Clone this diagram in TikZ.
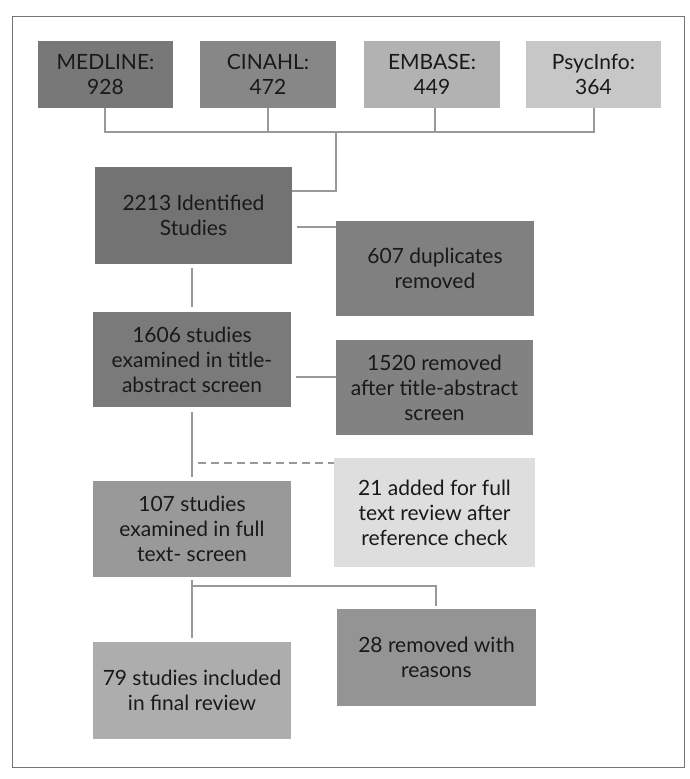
\documentclass[tikz,border=0pt]{standalone}
\usepackage{fontspec}
\setmainfont{Lato}
\begin{document}
\begin{tikzpicture}[x=1pt,y=-1pt,
  box/.style={inner sep=0pt, align=center, font=\fontsize{21}{25}\selectfont, text=black!90},
  conn/.style={draw=black!40, line width=1.6pt}]
\useasboundingbox (0,0) rectangle (690,779);
\draw[black!55, line width=0.8pt] (12,16) rectangle (684,767);
\def\bx#1#2#3#4#5#6#7{\node[box, fill=#6, minimum width={#3-#1}, minimum height={#4-#2}] (#5) at ({(#1+#3)/2},{(#2+#4)/2}) {#7};}
\bx{38}{41}{173}{108}{med}{black!53}{MEDLINE:\\928}
\bx{200}{41}{336}{108}{cin}{black!47}{CINAHL:\\472}
\bx{364}{41}{500}{108}{emb}{black!30}{EMBASE:\\449}
\bx{526}{41}{661}{108}{psy}{black!22}{PsycInfo:\\364}
\bx{95}{167}{292}{264}{ident}{black!55}{2213 Identified\\Studies}
\bx{336}{221}{534}{316}{dup}{black!50}{607 duplicates\\removed}
\bx{93}{312}{291}{407}{tas}{black!52}{1606 studies\\examined in title-\\abstract screen}
\bx{336}{340}{533}{435}{rem}{black!49}{1520 removed\\after title-abstract\\screen}
\bx{334}{458}{535}{567}{add}{black!13}{21 added for full\\text review after\\reference check}
\bx{93}{481}{291}{577}{full}{black!40}{107 studies\\examined in full\\text- screen}
\bx{337}{609}{536}{706}{reas}{black!42}{28 removed with\\reasons}
\bx{93}{642}{291}{739}{incl}{black!32}{79 studies included\\in final review}
\coordinate (bl) at (105,132); \coordinate (br) at (594,132);
\draw[conn] (med.south -| bl) -- (bl) -- (br) -- (psy.south -| br);
\draw[conn] (cin.south) -- (cin.south |- bl);
\draw[conn] (emb.south -| 435,0) -- (435,132);
\draw[conn] (336,132) -- (336,191) -- (ident.east |- 0,191);
\draw[conn] (297,227) -- (dup.west |- 0,227);
\draw[conn] (192,268) -- (192,307);
\draw[conn] (296,377) -- (rem.west |- 0,377);
\draw[conn] (192,412) -- (192,477);
\draw[conn, dashed, dash pattern=on 8pt off 5pt] (198,463) -- (add.west |- 0,463);
\draw[conn] (192,580) -- (192,638);
\draw[conn] (192,586) -- (436,586) -- (436,606);
\end{tikzpicture}
\end{document}
